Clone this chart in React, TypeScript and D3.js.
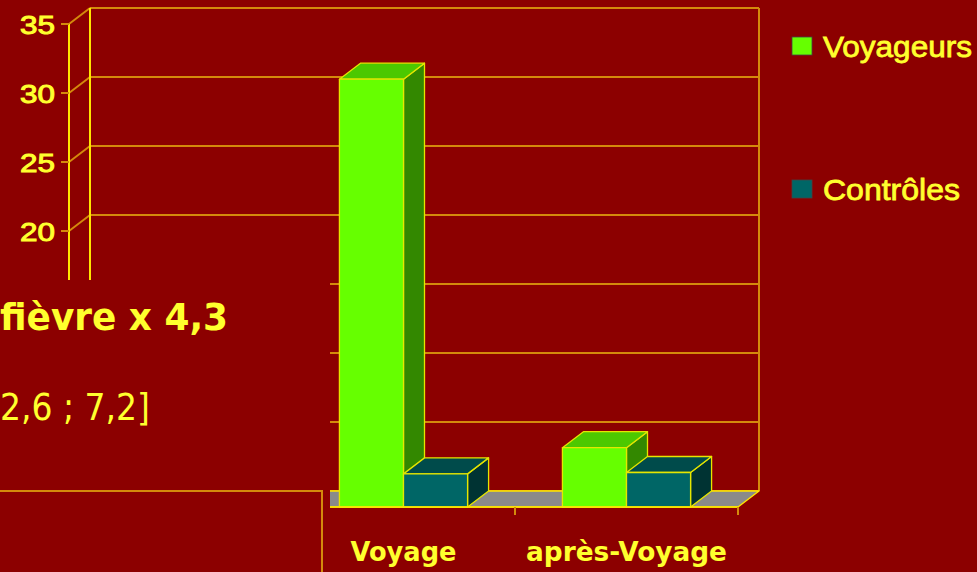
import * as d3 from "d3";

const categories = ["", "Voyage", "après-Voyage"];
const series = ["Voyageurs", "Contrôles"];
const voyageurs = [null, 31, 4.3];
const controles = [null, 2.4, 2.5];
const yTicks = [0, 5, 10, 15, 20, 25, 30, 35];
const noteLines = ["fièvre x 4,3", "2,6 ; 7,2]"];

const width = 977;
const height = 572;
const bg = "#8C0000";
const grid = "#D48A0C";
const axisYellow = "#FFE600";
const textYellow = "#FFFF2E";
const dx = 21;
const dy = -16;
const overlayTop = 280;

const colors = {
  Voyageurs: { front: "#66FF00", top: "#4CC800", side: "#338800" },
  Contrôles: { front: "#006666", top: "#004B4B", side: "#003333" },
};

const App = () => {
  const yScale = d3.scaleLinear().domain([0, 35]).range([507, 24]);
  const xScale = d3.scaleBand().domain(categories).range([69, 738]).padding(0);
  const xInner = d3
    .scaleBand()
    .domain(series)
    .range([0, xScale.bandwidth()])
    .paddingInner(0)
    .paddingOuter(0.74);

  const y0 = yScale(0);
  const xLeft = 69;
  const xRight = 738;
  const valuesBySeries = { Voyageurs: voyageurs, Contrôles: controles };

  const bars = [];
  categories.forEach((cat, i) => {
    series.forEach((s) => {
      const v = valuesBySeries[s][i];
      if (v == null) return;
      bars.push({ cat, s, v });
    });
  });

  // les étiquettes cachées sous la zone de texte ne sont pas dessinées
  const visibleTicks = yTicks.filter((t) => yScale(t) < overlayTop);

  return (
    <svg
      width={width}
      height={height}
      viewBox={`0 0 ${width} ${height}`}
      style={{ position: "absolute", left: 0, top: 0, background: bg }}
    >
      <rect x={0} y={0} width={width} height={height} fill={bg} />

      {/* mur du fond */}
      <g className="back-wall">
        {yTicks.map((t) => (
          <line
            key={t}
            x1={xLeft + dx}
            x2={xRight + dx}
            y1={yScale(t) + dy}
            y2={yScale(t) + dy}
            stroke={grid}
            strokeWidth={2}
          />
        ))}
        <line
          x1={xRight + dx}
          x2={xRight + dx}
          y1={yScale(35) + dy}
          y2={y0 + dy}
          stroke={grid}
          strokeWidth={2}
        />
      </g>

      {/* mur de gauche */}
      <g className="side-wall">
        {yTicks.map((t) => (
          <line
            key={t}
            x1={xLeft}
            x2={xLeft + dx}
            y1={yScale(t)}
            y2={yScale(t) + dy}
            stroke={grid}
            strokeWidth={2}
          />
        ))}
        <line
          x1={xLeft + dx}
          x2={xLeft + dx}
          y1={yScale(35) + dy}
          y2={y0 + dy}
          stroke={axisYellow}
          strokeWidth={2}
        />
      </g>

      {/* plancher */}
      <polygon
        points={`${xLeft},${y0} ${xRight},${y0} ${xRight + dx},${y0 + dy} ${xLeft + dx},${y0 + dy}`}
        fill="#8A8A8A"
        stroke={axisYellow}
        strokeWidth={1.4}
        strokeLinejoin="round"
      />

      {/* barres */}
      <g className="bars">
        {bars.map((b) => {
          const x = xScale(b.cat) + xInner(b.s);
          const w = xInner.bandwidth();
          const yt = yScale(b.v);
          const c = colors[b.s];
          return (
            <g key={b.cat + b.s} stroke="#E6E600" strokeWidth={1.3} strokeLinejoin="round">
              <polygon
                points={`${x + w},${yt} ${x + w + dx},${yt + dy} ${x + w + dx},${y0 + dy} ${x + w},${y0}`}
                fill={c.side}
              />
              <polygon
                points={`${x},${yt} ${x + dx},${yt + dy} ${x + w + dx},${yt + dy} ${x + w},${yt}`}
                fill={c.top}
              />
              <rect x={x} y={yt} width={w} height={y0 - yt} fill={c.front} />
            </g>
          );
        })}
      </g>

      {/* axe y */}
      <g className="y-axis">
        <line x1={xLeft} x2={xLeft} y1={yScale(35)} y2={y0} stroke={axisYellow} strokeWidth={2} />
        {yTicks.map((t) => (
          <line key={t} x1={xLeft - 8} x2={xLeft} y1={yScale(t)} y2={yScale(t)} stroke={grid} strokeWidth={2} />
        ))}
        {visibleTicks.map((t) => (
          <text
            key={t}
            x={55}
            y={yScale(t) + 9.5}
            textAnchor="end"
            fontFamily="Liberation Sans, Arial, sans-serif"
            fontSize={26}
            textLength={35}
            lengthAdjust="spacingAndGlyphs"
            fill={textYellow}
            stroke={textYellow}
            strokeWidth={1}
            paintOrder="stroke"
          >
            {t}
          </text>
        ))}
      </g>

      {/* axe x */}
      <g className="x-axis">
        <line x1={xLeft} x2={xRight} y1={y0} y2={y0} stroke={axisYellow} strokeWidth={1.6} />
        {categories.map((c) => (
          <line
            key={"t" + c}
            x1={xScale(c) + xScale.bandwidth()}
            x2={xScale(c) + xScale.bandwidth()}
            y1={y0}
            y2={y0 + 8}
            stroke={grid}
            strokeWidth={2}
          />
        ))}
        {categories.map((c) => (
          <text
            key={c}
            x={xScale(c) + xScale.bandwidth() / 2}
            y={561}
            textAnchor="middle"
            fontFamily="DejaVu Sans, sans-serif"
            fontWeight="bold"
            fontSize={27}
            textLength={c === "Voyage" ? 106 : 201}
            lengthAdjust="spacingAndGlyphs"
            fill={textYellow}
          >
            {c}
          </text>
        ))}
      </g>

      {/* légende */}
      <g className="legend" fontFamily="Liberation Sans, Arial, sans-serif" fontSize={30}>
        {series.map((s, i) => (
          <g key={s} transform={`translate(792, ${37 + i * 143})`}>
            <rect x={0} y={0} width={20} height={18} fill={colors[s].front} stroke="#444" strokeWidth={0.8} />
            <text
              x={31}
              y={20}
              fill={textYellow}
              stroke={textYellow}
              strokeWidth={0.8}
              paintOrder="stroke"
              textLength={s === "Voyageurs" ? 149 : 137}
              lengthAdjust="spacingAndGlyphs"
            >
              {s}
            </text>
          </g>
        ))}
      </g>

      {/* zone de texte superposée */}
      <rect x={0} y={overlayTop} width={330} height={height - overlayTop} fill={bg} />
      <g fontFamily="DejaVu Sans, sans-serif" fill={textYellow}>
        <text x={0} y={330} fontWeight="bold" fontSize={38} textLength={228} lengthAdjust="spacingAndGlyphs">
          {noteLines[0]}
        </text>
        <text x={0} y={420} fontSize={38} textLength={150} lengthAdjust="spacingAndGlyphs">
          {noteLines[1]}
        </text>
      </g>
      <rect x={-4} y={491} width={326} height={100} fill={bg} stroke={grid} strokeWidth={2} />
    </svg>
  );
};

export default App;
